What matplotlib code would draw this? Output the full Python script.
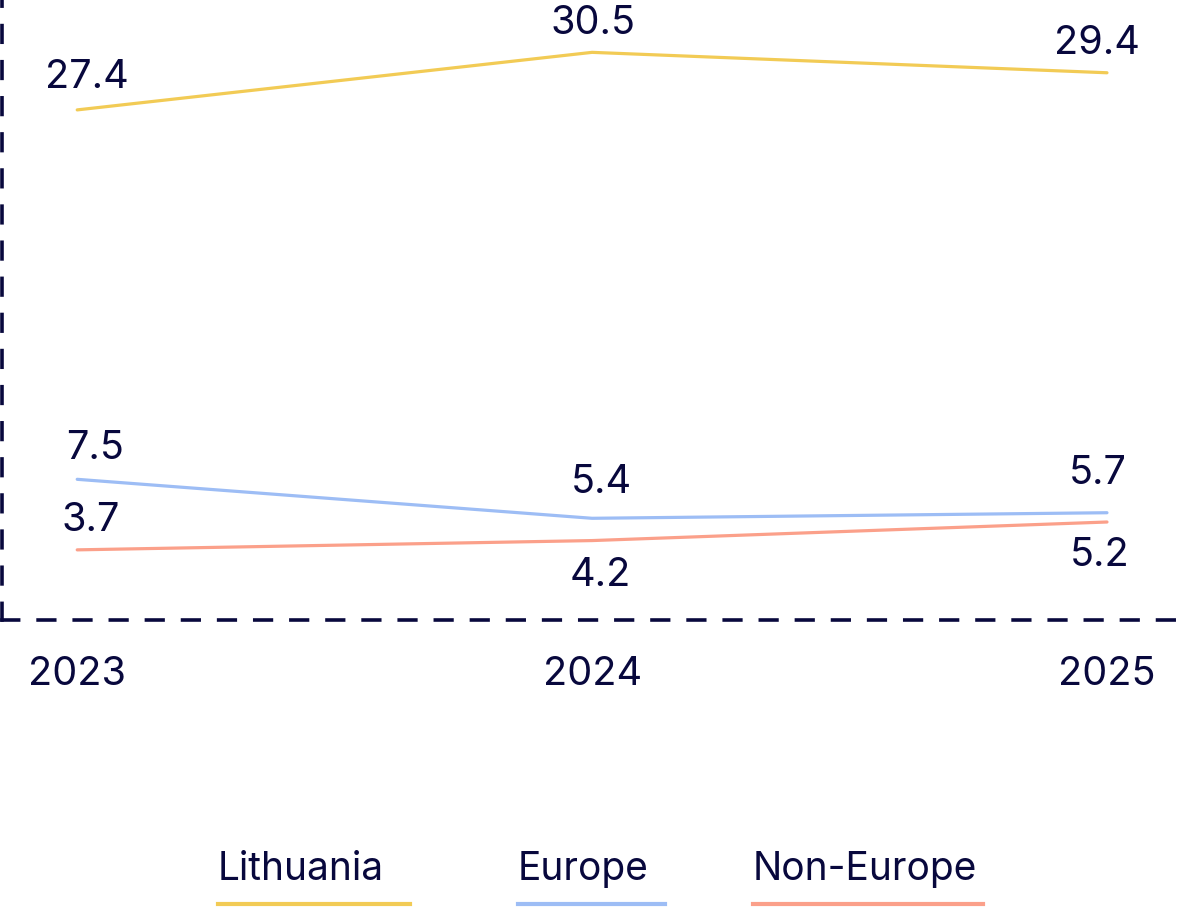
import matplotlib.pyplot as plt
from matplotlib.lines import Line2D

plt.rcParams['font.family'] = ['Inter', 'DejaVu Sans']

years = [2023, 2024, 2025]
series_names = ['Lithuania', 'Europe', 'Non-Europe']
lithuania = [27.4, 30.5, 29.4]
europe = [7.5, 5.4, 5.7]
non_europe = [3.7, 4.2, 5.2]

navy = '#08083D'
colors = ['#F2CB55', '#9DBDF5', '#FBA08A']

# label offsets in points (dx, dy) per series and year
offsets = [
    [(7, 23), (1, 21), (-7, 21)],
    [(13, 22), (7, 26), (-7, 28)],
    [(10, 21), (6, -25), (-5, -24)],
]

fig = plt.figure(figsize=(12, 9.07), dpi=100)
ax = fig.add_axes([0.0017, 0.3164, 0.986, 0.6836])

for vals, col, offs in zip([lithuania, europe, non_europe], colors, offsets):
    ax.plot(years, vals, color=col, lw=2.3, solid_capstyle='round')
    for x, v, (dx, dy) in zip(years, vals, offs):
        ax.annotate(f'{v:.1f}', (x, v), xytext=(dx, dy), textcoords='offset points',
                    ha='center', va='center', fontsize=28.5, color=navy)

ax.set_xlim(2023 - 0.146, 2025 + 0.152)
ax.set_ylim(-0.08, 33.32)
ax.set_xticks(years)
ax.set_xticklabels([str(y) for y in years], fontsize=28.5, color=navy)
ax.tick_params(axis='x', length=0, pad=26)
ax.set_yticks([])
for s in ['top', 'right']:
    ax.spines[s].set_visible(False)
for s in ['left', 'bottom']:
    ax.spines[s].set_color(navy)
    ax.spines[s].set_linewidth(2.6)
    ax.spines[s].set_linestyle((0, (4.6, 5.4)))

# legend: text with a coloured bar beneath
leg_x = [218, 518, 753]
leg_len = [192, 147, 230]
W, H = 1200, 907
for name, col, lx, ll in zip(series_names, colors, leg_x, leg_len):
    fig.text(lx / W, 1 - 869 / H, name, fontsize=28, color=navy, ha='left', va='center')
    fig.add_artist(Line2D([lx / W, (lx + ll) / W], [1 - 904 / H] * 2,
                          color=col, lw=3, transform=fig.transFigure))

fig.savefig('out.png', dpi=100)
